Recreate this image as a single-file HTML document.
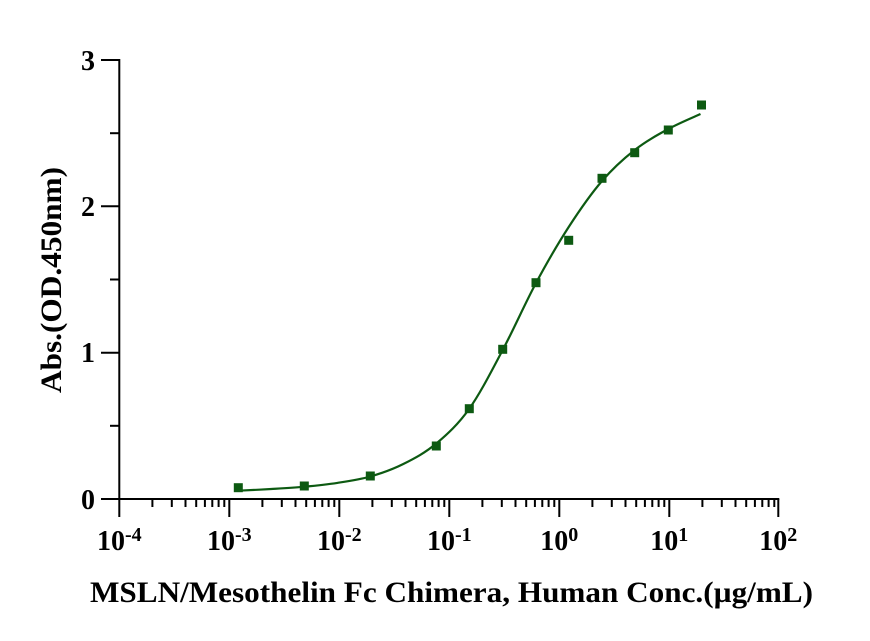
<!DOCTYPE html>
<html>
<head>
<meta charset="utf-8">
<style>
  html, body { margin: 0; padding: 0; background: #ffffff; }
  body { width: 870px; height: 641px; overflow: hidden; }
  svg { display: block; }
  text { font-family: "Liberation Serif", "Times New Roman", serif; font-weight: bold; fill: #000; }
</style>
</head>
<body>
<svg width="870" height="641" viewBox="0 0 870 641" xmlns="http://www.w3.org/2000/svg">
  <rect width="870" height="641" fill="#fff"/>

  <!-- Y axis -->
  <g stroke="#000" stroke-width="2" fill="none">
    <line x1="119.3" y1="59" x2="119.3" y2="500"/>
    <line x1="101" y1="60" x2="119.3" y2="60"/>
    <line x1="101" y1="206.3" x2="119.3" y2="206.3"/>
    <line x1="101" y1="352.7" x2="119.3" y2="352.7"/>
    <line x1="101" y1="499" x2="119.3" y2="499"/>
    <line x1="110" y1="133.2" x2="119.3" y2="133.2"/>
    <line x1="110" y1="279.5" x2="119.3" y2="279.5"/>
    <line x1="110" y1="425.8" x2="119.3" y2="425.8"/>

    <!-- X axis -->
    <line x1="118.3" y1="499" x2="779.3" y2="499"/>
    <line x1="119.3" y1="499" x2="119.3" y2="517"/>
    <line x1="229.3" y1="499" x2="229.3" y2="517"/>
    <line x1="339.3" y1="499" x2="339.3" y2="517"/>
    <line x1="449.3" y1="499" x2="449.3" y2="517"/>
    <line x1="559.3" y1="499" x2="559.3" y2="517"/>
    <line x1="669.3" y1="499" x2="669.3" y2="517"/>
    <line x1="778.3" y1="499" x2="778.3" y2="517"/>
  </g>
  <g stroke="#000" stroke-width="2" fill="none">
    <g transform="translate(119.3,0)">
      <line x1="33.1" y1="499" x2="33.1" y2="507"/><line x1="52.5" y1="499" x2="52.5" y2="507"/><line x1="66.2" y1="499" x2="66.2" y2="507"/><line x1="76.9" y1="499" x2="76.9" y2="507"/><line x1="85.6" y1="499" x2="85.6" y2="507"/><line x1="93.0" y1="499" x2="93.0" y2="507"/><line x1="99.3" y1="499" x2="99.3" y2="507"/><line x1="105.0" y1="499" x2="105.0" y2="507"/>
    </g>
    <g transform="translate(229.3,0)">
      <line x1="33.1" y1="499" x2="33.1" y2="507"/><line x1="52.5" y1="499" x2="52.5" y2="507"/><line x1="66.2" y1="499" x2="66.2" y2="507"/><line x1="76.9" y1="499" x2="76.9" y2="507"/><line x1="85.6" y1="499" x2="85.6" y2="507"/><line x1="93.0" y1="499" x2="93.0" y2="507"/><line x1="99.3" y1="499" x2="99.3" y2="507"/><line x1="105.0" y1="499" x2="105.0" y2="507"/>
    </g>
    <g transform="translate(339.3,0)">
      <line x1="33.1" y1="499" x2="33.1" y2="507"/><line x1="52.5" y1="499" x2="52.5" y2="507"/><line x1="66.2" y1="499" x2="66.2" y2="507"/><line x1="76.9" y1="499" x2="76.9" y2="507"/><line x1="85.6" y1="499" x2="85.6" y2="507"/><line x1="93.0" y1="499" x2="93.0" y2="507"/><line x1="99.3" y1="499" x2="99.3" y2="507"/><line x1="105.0" y1="499" x2="105.0" y2="507"/>
    </g>
    <g transform="translate(449.3,0)">
      <line x1="33.1" y1="499" x2="33.1" y2="507"/><line x1="52.5" y1="499" x2="52.5" y2="507"/><line x1="66.2" y1="499" x2="66.2" y2="507"/><line x1="76.9" y1="499" x2="76.9" y2="507"/><line x1="85.6" y1="499" x2="85.6" y2="507"/><line x1="93.0" y1="499" x2="93.0" y2="507"/><line x1="99.3" y1="499" x2="99.3" y2="507"/><line x1="105.0" y1="499" x2="105.0" y2="507"/>
    </g>
    <g transform="translate(559.3,0)">
      <line x1="33.1" y1="499" x2="33.1" y2="507"/><line x1="52.5" y1="499" x2="52.5" y2="507"/><line x1="66.2" y1="499" x2="66.2" y2="507"/><line x1="76.9" y1="499" x2="76.9" y2="507"/><line x1="85.6" y1="499" x2="85.6" y2="507"/><line x1="93.0" y1="499" x2="93.0" y2="507"/><line x1="99.3" y1="499" x2="99.3" y2="507"/><line x1="105.0" y1="499" x2="105.0" y2="507"/>
    </g>
    <g transform="translate(669.3,0)">
      <line x1="33.1" y1="499" x2="33.1" y2="507"/><line x1="52.5" y1="499" x2="52.5" y2="507"/><line x1="66.2" y1="499" x2="66.2" y2="507"/><line x1="76.9" y1="499" x2="76.9" y2="507"/><line x1="85.6" y1="499" x2="85.6" y2="507"/><line x1="93.0" y1="499" x2="93.0" y2="507"/><line x1="99.3" y1="499" x2="99.3" y2="507"/><line x1="105.0" y1="499" x2="105.0" y2="507"/>
    </g>
  </g>

  <!-- Y tick labels -->
  <g font-size="28" text-anchor="end">
    <text x="95" y="70">3</text>
    <text x="95" y="216">2</text>
    <text x="95" y="362">1</text>
    <text x="95" y="509">0</text>
  </g>

  <!-- X tick labels -->
  <g font-size="28" text-anchor="middle">
    <text x="119.3" y="550">10<tspan dy="-9" font-size="20">-4</tspan></text>
    <text x="229.3" y="550">10<tspan dy="-9" font-size="20">-3</tspan></text>
    <text x="339.3" y="550">10<tspan dy="-9" font-size="20">-2</tspan></text>
    <text x="449.3" y="550">10<tspan dy="-9" font-size="20">-1</tspan></text>
    <text x="559.3" y="550">10<tspan dy="-9" font-size="20">0</tspan></text>
    <text x="669.3" y="550">10<tspan dy="-9" font-size="20">1</tspan></text>
    <text x="778.3" y="550">10<tspan dy="-9" font-size="20">2</tspan></text>
  </g>

  <!-- Axis titles -->
  <text x="451.5" y="602" font-size="30" text-anchor="middle" textLength="723" lengthAdjust="spacingAndGlyphs">MSLN/Mesothelin Fc Chimera, Human Conc.(µg/mL)</text>
  <text transform="translate(61,280) rotate(-90)" font-size="30" text-anchor="middle" textLength="226" lengthAdjust="spacingAndGlyphs">Abs.(OD.450nm)</text>

  <!-- Fitted curve -->
  <path fill="none" stroke="#0d5a12" stroke-width="2.2"
    d="M238.3,490.7
       C243.8,490.42 260.3,489.67 271.3,489.0
       C282.3,488.33 293.3,487.72 304.3,486.7
       C315.3,485.68 326.3,484.6 337.3,482.9
       C348.3,481.2 359.3,479.65 370.3,476.5
       C381.3,473.35 392.3,469.5 403.3,464.0
       C414.3,458.5 425.3,452.72 436.3,443.5
       C447.3,434.28 458.23,424.28 469.3,408.7
       C480.37,393.12 491.58,370.95 502.7,350.0
       C513.82,329.05 525,303.5 536,283
       C547,262.5 557.7,244 568.7,227
       C579.7,210 591,193.83 602,181
       C613,168.17 623.65,158.67 634.7,150
       C645.75,141.33 657.33,135 668.3,129
       C679.27,123 695.13,116.5 700.5,114"/>

  <!-- Data points -->
  <g fill="#0d5a12">
    <rect x="233.8" y="483.2" width="9" height="9"/>
    <rect x="299.8" y="481.5" width="9" height="9"/>
    <rect x="365.8" y="471.5" width="9" height="9"/>
    <rect x="431.8" y="441.5" width="9" height="9"/>
    <rect x="464.8" y="404.2" width="9" height="9"/>
    <rect x="498.2" y="344.8" width="9" height="9"/>
    <rect x="531.5" y="278.2" width="9" height="9"/>
    <rect x="564.2" y="235.8" width="9" height="9"/>
    <rect x="597.5" y="173.8" width="9" height="9"/>
    <rect x="630.2" y="148.2" width="9" height="9"/>
    <rect x="663.8" y="125.5" width="9" height="9"/>
    <rect x="697" y="100.5" width="9" height="9"/>
  </g>
</svg>
</body>
</html>
